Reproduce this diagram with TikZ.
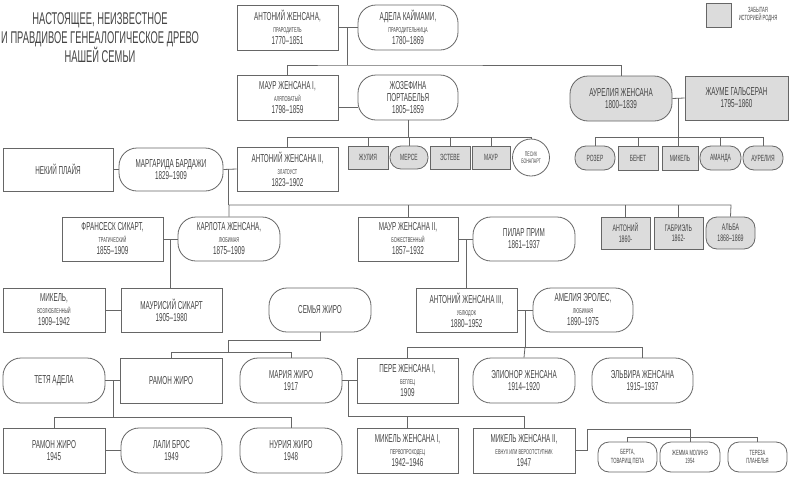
\documentclass[tikz,border=0pt]{standalone}
\usepackage{fontspec}
\setmainfont{Liberation Sans}[FakeStretch=0.55]
\definecolor{ln}{HTML}{666666}
\definecolor{tx}{HTML}{444444}
\definecolor{gf}{HTML}{DCDCDC}
\newcommand\nk[1]{{\fontsize{7}{8}\selectfont #1}}
\newcommand\sm{\fontsize{9}{10}\selectfont}
\begin{document}
\begin{tikzpicture}[x=1pt,y=-1pt,
  base/.style={draw=ln,line width=0.8pt,text=tx,align=center,inner sep=0pt,font=\fontsize{11.5}{12}\selectfont},
  box/.style={base},
  rb/.style={base,rounded corners=18pt},
  rs/.style={base,rounded corners=11pt},
  gr/.style={fill=gf},
  ed/.style={draw=ln,line width=0.8pt}]
\useasboundingbox[fill=white] (0,0) rectangle (790,477);
\node[text=tx,align=center,font=\fontsize{17}{18.5}\selectfont] (title) at (100,38) {НАСТОЯЩЕЕ, НЕИЗВЕСТНОЕ\\И ПРАВДИВОЕ ГЕНЕАЛОГИЧЕСКОЕ ДРЕВО\\НАШЕЙ СЕМЬИ};
\node[box,gr,minimum width=25,minimum height=24] (leg) at (718.5,15) {};
\node[text=tx,align=center,font=\fontsize{7.5}{8}\selectfont] (legt) at (758,15) {ЗАБЫТАЯ\\ИСТОРИЕЙ РОДНЯ};
% row 1
\node[box,minimum width=101,minimum height=45] (a1) at (287.5,27.5) {АНТОНИЙ ЖЕНСАНА,\\\nk{ПРАРОДИТЕЛЬ}\\1770–1851};
\node[rb,minimum width=100,minimum height=45] (adela) at (408,27.5) {АДЕЛА КАЙМАМИ,\\\nk{ПРАРОДИТЕЛЬНИЦА}\\1780–1869};
% row 2
\node[box,minimum width=101,minimum height=45] (maur1) at (287.5,97.5) {МАУР ЖЕНСАНА I,\\\nk{АЛЯПОВАТЫЙ}\\1798–1859};
\node[rb,minimum width=100,minimum height=45] (jos) at (408,97.5) {ЖОЗЕФИНА\\ПОРТАБЕЛЬЯ\\1805–1859};
\node[rb,gr,minimum width=102,minimum height=45] (aur) at (621,98.5) {АУРЕЛИЯ ЖЕНСАНА\\1800–1839};
\node[box,gr,minimum width=103,minimum height=44] (jaume) at (736.5,98) {ЖАУМЕ ГАЛЬСЕРАН\\1795–1860};
% row 3
\node[box,minimum width=110,minimum height=43] (plaja) at (58,169.5) {НЕКИЙ ПЛАЙЯ};
\node[rb,minimum width=104,minimum height=43] (marg) at (171,169.5) {МАРГАРИДА БАРДАЖИ\\1829–1909};
\node[box,minimum width=101,minimum height=44] (a2) at (287.5,169) {АНТОНИЙ ЖЕНСАНА II,\\\nk{ЗЛАТОУСТ}\\1823–1902};
\node[box,gr,minimum width=40,minimum height=23,font=\sm] (julia) at (368,157.5) {ЖУЛИЯ};
\node[rs,gr,minimum width=38,minimum height=23,font=\sm] (merse) at (409,157.5) {МЕРСЕ};
\node[box,gr,minimum width=40,minimum height=23,font=\sm] (esteve) at (450,157.5) {ЭСТЕВЕ};
\node[box,gr,minimum width=38,minimum height=23,font=\sm] (maurc) at (491,157.5) {МАУР};
\node[base,circle,minimum size=37,font=\fontsize{6.5}{7}\selectfont] (pes) at (531,157.5) {ПЕСИК\\БОНАПАРТ};
\node[rs,gr,minimum width=40,minimum height=24,font=\sm] (rozer) at (595,158) {РОЗЕР};
\node[box,gr,minimum width=40,minimum height=24,font=\sm] (benet) at (638,158) {БЕНЕТ};
\node[box,gr,minimum width=36,minimum height=24,font=\sm] (mikc) at (680,158) {МИКЕЛЬ};
\node[rs,gr,minimum width=41,minimum height=24,font=\sm] (amanda) at (720.5,158) {АМАНДА};
\node[rs,gr,minimum width=40,minimum height=24,font=\sm] (aurc) at (763,158) {АУРЕЛИЯ};
% row 4
\node[box,minimum width=101,minimum height=44] (fran) at (112.5,239) {ФРАНСЕСК СИКАРТ,\\\nk{ТРАГИЧЕСКИЙ}\\1855–1909};
\node[rb,minimum width=102,minimum height=44] (carl) at (229,239) {КАРЛОТА ЖЕНСАНА,\\\nk{ЛЮБИМАЯ}\\1875–1909};
\node[box,minimum width=100,minimum height=44] (maur2) at (408,239) {МАУР ЖЕНСАНА II,\\\nk{БОЖЕСТВЕННЫЙ}\\1857–1932};
\node[rb,minimum width=102,minimum height=44] (pilar) at (524,239) {ПИЛАР ПРИМ\\1861–1937};
\node[box,gr,minimum width=49,minimum height=32,font=\fontsize{9.5}{10.5}\selectfont] (ant60) at (625.5,233) {АНТОНИЙ\\1860-};
\node[box,gr,minimum width=49,minimum height=32,font=\fontsize{9.5}{10.5}\selectfont] (gab) at (678.5,233) {ГАБРИЭЛЬ\\1862-};
\node[rs,gr,minimum width=49,minimum height=32,font=\fontsize{9.5}{10.5}\selectfont] (alba) at (730.5,233) {АЛЬБА\\1868–1869};
% row 5
\node[box,minimum width=102,minimum height=44] (mikv) at (54,310) {МИКЕЛЬ,\\\nk{ВОЗЛЮБЛЕННЫЙ}\\1909–1942};
\node[box,minimum width=101,minimum height=44] (mauric) at (171.5,310) {МАУРИСИЙ СИКАРТ\\\nk{}1905–1980};
\node[rb,minimum width=102,minimum height=44] (semya) at (320,310) {СЕМЬЯ ЖИРО};
\node[box,minimum width=101,minimum height=44] (a3) at (466.5,310) {АНТОНИЙ ЖЕНСАНА III,\\\nk{УБЛЮДОК}\\1880–1952};
\node[rb,minimum width=100,minimum height=44] (amel) at (583,310) {АМЕЛИЯ ЭРОЛЕС,\\\nk{ЛЮБИМАЯ}\\1890–1975};
% row 6
\node[rb,minimum width=102,minimum height=45] (tetya) at (54,380.5) {ТЕТЯ АДЕЛА};
\node[box,minimum width=102,minimum height=45] (ramon) at (171,380.5) {РАМОН ЖИРО};
\node[rb,minimum width=102,minimum height=45] (maria) at (291,380.5) {МАРИЯ ЖИРО\\1917};
\node[box,minimum width=101,minimum height=45] (pere) at (407.5,380.5) {ПЕРЕ ЖЕНСАНА I,\\\nk{БЕГЛЕЦ}\\1909};
\node[rb,minimum width=102,minimum height=45] (elin) at (524,380.5) {ЭЛИОНОР ЖЕНСАНА\\1914–1920};
\node[rb,minimum width=101,minimum height=45] (elv) at (642.5,380.5) {ЭЛЬВИРА ЖЕНСАНА\\1915–1937};
% row 7
\node[box,minimum width=102,minimum height=45] (ramon45) at (54,450.5) {РАМОН ЖИРО\\1945};
\node[rb,minimum width=101,minimum height=45] (lali) at (171.5,450.5) {ЛАЛИ БРОС\\1949};
\node[rb,minimum width=102,minimum height=45] (nuria) at (291,450.5) {НУРИЯ ЖИРО\\1948};
\node[box,minimum width=101,minimum height=45] (mik1) at (407.5,450.5) {МИКЕЛЬ ЖЕНСАНА I,\\\nk{ПЕРВОПРОХОДЕЦ}\\1942–1946};
\node[box,minimum width=102,minimum height=45] (mik2) at (524,450.5) {МИКЕЛЬ ЖЕНСАНА II,\\\nk{ЕВНУХ ИЛИ ВЕРООТСТУПНИК}\\1947};
\node[rs,minimum width=59,minimum height=30,font=\fontsize{7.5}{8.5}\selectfont] (berta) at (627.5,457) {БЕРТА,\\ТОВАРИЩ ПЕПА};
\node[rs,minimum width=60,minimum height=30,font=\fontsize{7.5}{8.5}\selectfont] (jemma) at (690,457) {ЖЕММА МОЛИНЭ\\1954};
\node[rs,minimum width=59,minimum height=30,font=\fontsize{7.5}{8.5}\selectfont] (tereza) at (757.5,457) {ТЕРЕЗА\\ПЛАНЕЛЬЯ};
% connectors
\draw[ed] (a1.east) -- (adela.west);
\draw[ed] (347,27.5) -- (347,65);
\draw[ed] (maur1.north) |- (347,65) -| (aur.north);
\draw[ed] (maur1.east |- 0,107) -- (jos.west |- 0,107);
\draw[ed] (jos.south) -- (408,137);
\draw[ed] (a2.north) |- (531,137) -- (pes.north);
\foreach \n in {julia,merse,esteve,maurc} \draw[ed] (\n.north) -- (\n.north |- 0,137);
\draw[ed] (aur.east) -- (jaume.west);
\draw[ed] (678,98) -- (678,137);
\draw[ed] (rozer.north) |- (763,137) -- (aurc.north);
\foreach \n in {benet,amanda} \draw[ed] (\n.north) -- (\n.north |- 0,137);
\draw[ed] (678,137) -- (678,146);
\draw[ed] (plaja.east) -- (marg.west);
\draw[ed] (marg.east) -- (a2.west);
\draw[ed] (228,169) -- (228,205);
\draw[ed] (carl.north) |- (731,205) -- (alba.north);
\foreach \n in {maur2,ant60,gab} \draw[ed] (\n.north) -- (\n.north |- 0,205);
\draw[ed] (fran.east) -- (carl.west);
\draw[ed] (170,239) -- (170,288);
\draw[ed] (maur2.east) -- (pilar.west);
\draw[ed] (466,239) -- (466,288);
\draw[ed] (mikv.east) -- (mauric.west);
\draw[ed] (semya.south) -- (320,340) -- (228,340) -- (228,352);
\draw[ed] (ramon.north) |- (291,352) -- (maria.north);
\draw[ed] (a3.east) -- (amel.west);
\draw[ed] (525,310) -- (525,347);
\draw[ed] (pere.north) |- (642.5,347) -- (elv.north);
\draw[ed] (525,347) -- (elin.north);
\draw[ed] (tetya.east) -- (ramon.west);
\draw[ed] (113,380.5) -- (113,417);
\draw[ed] (ramon45.north) |- (291,417) -- (nuria.north);
\draw[ed] (maria.east) -- (pere.west);
\draw[ed] (348,380.5) |- (524,416) -- (mik2.north);
\draw[ed] (mik1.north) -- (407.5,416);
\draw[ed] (ramon45.east) -- (lali.west);
\draw[ed] (mik2.east) -- (587,450.5) |- (690,429) -- (690,437);
\draw[ed] (berta.north) |- (757.5,437) -- (tereza.north);
\draw[ed] (jemma.north) -- (690,437);
\end{tikzpicture}
\end{document}
